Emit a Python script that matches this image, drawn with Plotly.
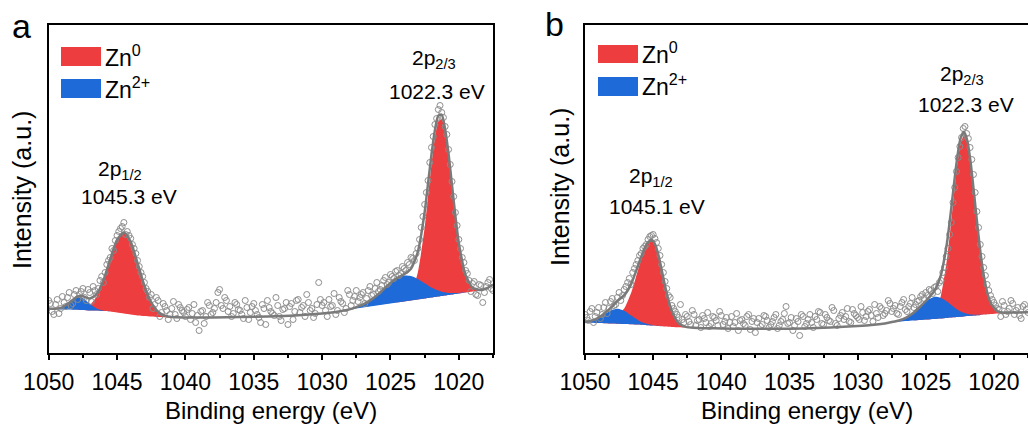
import plotly.graph_objects as go

W, H = 1028, 424

# ---------------- data ----------------
ENERGY = [
    1050.0, 1049.75, 1049.5, 1049.25, 1049.0, 1048.75, 1048.5, 1048.25, 1048.0, 1047.75,
    1047.5, 1047.25, 1047.0, 1046.75, 1046.5, 1046.25, 1046.0, 1045.75, 1045.5, 1045.25,
    1045.0, 1044.75, 1044.5, 1044.25, 1044.0, 1043.75, 1043.5, 1043.25, 1043.0, 1042.75,
    1042.5, 1042.25, 1042.0, 1041.75, 1041.5, 1041.25, 1041.0, 1040.75, 1040.5, 1040.25,
    1040.0, 1039.75, 1039.5, 1039.25, 1039.0, 1038.75, 1038.5, 1038.25, 1038.0, 1037.75,
    1037.5, 1037.25, 1037.0, 1036.75, 1036.5, 1036.25, 1036.0, 1035.75, 1035.5, 1035.25,
    1035.0, 1034.75, 1034.5, 1034.25, 1034.0, 1033.75, 1033.5, 1033.25, 1033.0, 1032.75,
    1032.5, 1032.25, 1032.0, 1031.75, 1031.5, 1031.25, 1031.0, 1030.75, 1030.5, 1030.25,
    1030.0, 1029.75, 1029.5, 1029.25, 1029.0, 1028.75, 1028.5, 1028.25, 1028.0, 1027.75,
    1027.5, 1027.25, 1027.0, 1026.75, 1026.5, 1026.25, 1026.0, 1025.75, 1025.5, 1025.25,
    1025.0, 1024.75, 1024.5, 1024.25, 1024.0, 1023.75, 1023.5, 1023.25, 1023.0, 1022.75,
    1022.5, 1022.25, 1022.0, 1021.75, 1021.5, 1021.25, 1021.0, 1020.75, 1020.5, 1020.25,
    1020.0, 1019.75, 1019.5, 1019.25, 1019.0, 1018.75, 1018.5, 1018.25, 1018.0, 1017.75,
    1017.5,
]
ENERGY_MID = [
    1049.875, 1049.625, 1049.375, 1049.125, 1048.875, 1048.625, 1048.375, 1048.125, 1047.875, 1047.625,
    1047.375, 1047.125, 1046.875, 1046.625, 1046.375, 1046.125, 1045.875, 1045.625, 1045.375, 1045.125,
    1044.875, 1044.625, 1044.375, 1044.125, 1043.875, 1043.625, 1043.375, 1043.125, 1042.875, 1042.625,
    1042.375, 1042.125, 1041.875, 1041.625, 1041.375, 1041.125, 1040.875, 1040.625, 1040.375, 1040.125,
    1039.875, 1039.625, 1039.375, 1039.125, 1038.875, 1038.625, 1038.375, 1038.125, 1037.875, 1037.625,
    1037.375, 1037.125, 1036.875, 1036.625, 1036.375, 1036.125, 1035.875, 1035.625, 1035.375, 1035.125,
    1034.875, 1034.625, 1034.375, 1034.125, 1033.875, 1033.625, 1033.375, 1033.125, 1032.875, 1032.625,
    1032.375, 1032.125, 1031.875, 1031.625, 1031.375, 1031.125, 1030.875, 1030.625, 1030.375, 1030.125,
    1029.875, 1029.625, 1029.375, 1029.125, 1028.875, 1028.625, 1028.375, 1028.125, 1027.875, 1027.625,
    1027.375, 1027.125, 1026.875, 1026.625, 1026.375, 1026.125, 1025.875, 1025.625, 1025.375, 1025.125,
    1024.875, 1024.625, 1024.375, 1024.125, 1023.875, 1023.625, 1023.375, 1023.125, 1022.875, 1022.625,
    1022.375, 1022.125, 1021.875, 1021.625, 1021.375, 1021.125, 1020.875, 1020.625, 1020.375, 1020.125,
    1019.875, 1019.625, 1019.375, 1019.125, 1018.875, 1018.625, 1018.375, 1018.125, 1017.875, 1017.625,
]

meas_a = [
    52, 41, 48, 39, 56, 46, 60, 49, 62, 58,
    64, 52, 60, 66, 58, 72, 70, 88, 95, 102,
    117, 124, 130, 121, 114, 104, 92, 80, 70, 61,
    58, 48, 52, 40, 46, 33, 44, 38, 48, 42,
    36, 45, 39, 30, 22, 42, 36, 47, 40, 50,
    63, 44, 52, 46, 39, 48, 42, 34, 45, 40,
    49, 38, 30, 44, 52, 41, 37, 47, 32, 44,
    28, 49, 41, 53, 45, 36, 50, 44, 39, 70,
    47, 42, 53, 47, 38, 55, 49, 44, 58, 52,
    62, 55, 60, 54, 66, 58, 70, 63, 72, 68,
    78, 74, 82, 79, 84, 90, 95, 92, 104, 125,
    148, 172, 205, 228, 243, 240, 226, 203, 171, 140,
    113, 95, 82, 72, 69, 58, 68, 50, 66, 73,
    62,
]
meas_a_mid = [
    49, 38, 53, 44, 50, 55, 47, 58, 53, 61,
    55, 63, 51, 62, 64, 76, 80, 92, 104, 112,
    121, 126, 118, 117, 108, 99, 86, 76, 64, 55,
    44, 55, 36, 49, 42, 38, 51, 34, 45, 40,
    43, 33, 48, 37, 41, 29, 50, 38, 44, 60,
    47, 55, 41, 36, 50, 43, 38, 52, 33, 46,
    42, 35, 48, 28, 45, 39, 55, 36, 43, 50,
    46, 33, 52, 40, 47, 58, 42, 35, 48, 53,
    50, 36, 46, 59, 42, 51, 40, 62, 47, 56,
    51, 58, 49, 62, 57, 64, 61, 67, 75, 70,
    76, 81, 77, 86, 82, 88, 94, 99, 113, 136,
    160, 190, 216, 234, 247, 235, 218, 188, 156, 127,
    104, 90, 79, 61, 71, 57, 67, 60, 70, 64,
]

meas_b = [
    38, 32, 44, 36, 45, 38, 50, 44, 54, 48,
    60, 57, 66, 74, 80, 88, 97, 104, 108, 116,
    118, 110, 97, 80, 64, 55, 44, 38, 48, 30,
    36, 28, 38, 32, 25, 34, 40, 29, 35, 27,
    37, 31, 24, 36, 30, 22, 33, 27, 38, 31,
    20, 34, 28, 36, 25, 31, 38, 27, 33, 46,
    30, 22, 34, 17, 36, 29, 38, 25, 33, 40,
    28, 35, 31, 42, 27, 37, 33, 44, 30, 39,
    35, 46, 32, 41, 37, 48, 35, 44, 39, 52,
    41, 47, 38, 50, 43, 46, 55, 48, 52, 58,
    60, 63, 59, 66, 70, 80, 96, 118, 150, 181,
    206, 224, 219, 205, 178, 141, 108, 85, 68, 57,
    50, 44, 36, 47, 41, 52, 38, 45, 34, 48,
    40,
]
meas_b_mid = [
    35, 41, 30, 40, 34, 45, 39, 51, 47, 55,
    52, 63, 70, 68, 84, 92, 99, 106, 113, 117,
    114, 104, 88, 71, 57, 47, 41, 35, 33, 38,
    31, 42, 27, 33, 37, 30, 26, 36, 32, 41,
    28, 35, 30, 26, 39, 32, 29, 36, 23, 34,
    30, 26, 37, 32, 28, 35, 24, 31, 39, 29,
    35, 27, 31, 38, 26, 33, 30, 36, 41, 29,
    38, 32, 45, 29, 34, 40, 36, 31, 43, 37,
    33, 40, 36, 43, 31, 39, 46, 37, 42, 49,
    44, 39, 46, 53, 41, 49, 45, 51, 56, 54,
    57, 62, 65, 61, 72, 85, 104, 130, 165, 195,
    215, 226, 214, 193, 160, 125, 96, 77, 62, 53,
    47, 43, 51, 38, 44, 49, 42, 37, 46, 43,
]

# fitted curves, panel a
fit_x_a = [
    1050, 1049.5, 1049, 1048.5, 1048, 1047.75, 1047.5, 1047, 1046.5, 1046,
    1045.5, 1045, 1044.5, 1044, 1043.5, 1043, 1042.5, 1042, 1041.5, 1041,
    1040, 1039, 1038, 1036, 1034, 1032, 1030, 1029, 1028, 1027.5,
    1027, 1026.5, 1026, 1025.5, 1025, 1024.5, 1024, 1023.5, 1023, 1022.5,
    1022.25, 1022, 1021.75, 1021.5, 1021.25, 1021, 1020.75, 1020.5, 1020.25, 1020,
    1019.5, 1019, 1018.5, 1018, 1017.5,
]
bg_a = [
    44, 43.5, 43, 43, 42.7, 42.6, 42.5, 42, 42, 41.5,
    41, 40, 39, 38, 37, 36.5, 36, 35.5, 35.3, 35,
    35, 35, 35, 35.5, 36, 37, 39, 40.5, 42.5, 44,
    45, 46, 47, 48, 49, 50, 51, 52, 53, 54,
    54.5, 55, 55.5, 56, 56.5, 57, 57.5, 58, 58.5, 59,
    60, 61, 62, 64, 68,
]
zn0_a = [
    0, 0, 0, 0.1, 0.4, 0.8, 1.6, 5.3, 14.1, 30.3,
    52.3, 72.6, 81, 72.6, 52.3, 30.3, 14.1, 5.3, 1.6, 0.4,
    0, 0, 0, 0, 0, 0, 0, 0, 0, 0,
    0, 0, 0, 0, 0, 0.2, 1.4, 7.3, 27, 71,
    102, 133, 159, 175, 177, 163, 139, 108, 77, 50,
    17, 4, 0.6, 0, 0,
]
zn2_a = [
    0, 0.3, 2.0, 6.7, 12.1, 13, 12.1, 6.7, 2.0, 0.3,
    0, 0, 0, 0, 0, 0, 0, 0, 0, 0,
    0, 0, 0, 0, 0, 0, 0, 0.1, 0.6, 1.4,
    3.1, 5.9, 10, 15.2, 20.5, 24.5, 26, 24.5, 20.5, 15.2,
    12.6, 10, 7.8, 5.9, 4.3, 3.1, 2.1, 1.4, 0.9, 0.6,
    0.2, 0.1, 0, 0, 0,
]

# fitted curves, panel b
fit_x_b = [
    1050, 1049.5, 1049, 1048.5, 1048, 1047.6, 1047.1, 1046.6, 1046.1, 1045.85,
    1045.6, 1045.35, 1045.1, 1044.85, 1044.6, 1044.35, 1044.1, 1043.85, 1043.6, 1043.1,
    1042.6, 1042, 1041, 1040, 1038, 1036, 1034, 1032, 1030, 1029,
    1028, 1027.4, 1026.9, 1026.4, 1025.9, 1025.4, 1024.9, 1024.4, 1023.9, 1023.45,
    1023.2, 1022.95, 1022.7, 1022.45, 1022.2, 1021.95, 1021.7, 1021.45, 1021.2, 1020.95,
    1020.7, 1020.45, 1020.2, 1019.7, 1019.2, 1018.5, 1017.5,
]
bg_b = [
    30, 29.8, 29.5, 29.3, 29, 28.8, 28.5, 28.3, 28, 27.8,
    27.6, 27.3, 27, 26.8, 26.5, 26.3, 26, 25.8, 25.6, 25.3,
    25, 24.7, 24.3, 24, 23.7, 23.7, 24, 25, 26.5, 27.5,
    29, 30.3, 31, 31.6, 32.1, 32.6, 33.1, 33.6, 34.1, 34.6,
    34.9, 35.2, 35.5, 35.8, 36.1, 36.4, 36.7, 37, 37.3, 37.6,
    37.9, 38.2, 38.5, 39, 39.5, 40, 40.3,
]
zn0_b = [
    0, 0.1, 0.3, 1.1, 3.5, 8, 16, 32, 55, 66,
    76, 82.5, 85, 81, 70, 54.8, 38.9, 25.1, 14.7, 3.7,
    0.6, 0, 0, 0, 0, 0, 0, 0, 0, 0,
    0, 0, 0, 0, 0, 0.1, 0.9, 5.4, 22.2, 58.2,
    87.6, 120, 151, 173, 181, 173, 151, 120, 87.6, 58.2,
    35.4, 19.6, 9.9, 1.9, 0.3, 0, 0,
]
zn2_b = [
    0.6, 2.0, 5.1, 9.6, 13.7, 15, 13.1, 8.6, 4.3, 2.7,
    1.6, 0.9, 0.5, 0.2, 0.1, 0, 0, 0, 0, 0,
    0, 0, 0, 0, 0, 0, 0, 0, 0, 0,
    0.1, 0.4, 1.3, 3.6, 7.6, 13.3, 19, 22, 20.6, 16.3,
    13.3, 10.4, 7.6, 5.3, 3.6, 2.2, 1.3, 0.8, 0.4, 0.2,
    0.1, 0, 0, 0, 0, 0, 0,
]

TICKS = [1050, 1045, 1040, 1035, 1030, 1025, 1020]
MINOR_TICKS = [1047.5, 1042.5, 1037.5, 1032.5, 1027.5, 1022.5, 1017.5]
PEAK_LABELS_A = [("2p<sub>1/2</sub>", "1045.3 eV"), ("2p<sub>2/3</sub>", "1022.3 eV")]
PEAK_LABELS_B = [("2p<sub>1/2</sub>", "1045.1 eV"), ("2p<sub>2/3</sub>", "1022.3 eV")]

for arr in (meas_a, meas_b):
    assert len(arr) == len(ENERGY), len(arr)
for arr in (meas_a_mid, meas_b_mid):
    assert len(arr) == len(ENERGY_MID), len(arr)
for arrs in ((fit_x_a, bg_a, zn0_a, zn2_a), (fit_x_b, bg_b, zn0_b, zn2_b)):
    for a in arrs:
        assert len(a) == len(arrs[0]), (len(a), len(arrs[0]))

# ---------------- style ----------------
RED = "#EE3D3F"
BLUE = "#1D6AD8"
ENV = "#7A7A7A"
PT = "#8C8C8C"
FONT = "Liberation Sans, Arial, sans-serif"

def px(x):
    return x / W

def py(y):
    return 1 - y / H

fig = go.Figure()

def add_panel(n, fit_x, bg, zn0, zn2, meas, meas_mid):
    xa, ya = ("x", "y") if n == 1 else ("x2", "y2")
    top0 = [b + z for b, z in zip(bg, zn0)]
    top2 = [b + z for b, z in zip(bg, zn2)]
    env = [b + p + q for b, p, q in zip(bg, zn0, zn2)]
    rx = list(fit_x) + list(fit_x)[::-1]
    fig.add_trace(go.Scatter(x=rx, y=top0 + bg[::-1], fill="toself", fillcolor=RED,
                             mode="lines", line=dict(width=0, shape="spline", smoothing=0.6),
                             xaxis=xa, yaxis=ya, showlegend=False, hoverinfo="skip"))
    fig.add_trace(go.Scatter(x=rx, y=top2 + bg[::-1], fill="toself", fillcolor=BLUE,
                             mode="lines", line=dict(width=0, shape="spline", smoothing=0.6),
                             xaxis=xa, yaxis=ya, showlegend=False, hoverinfo="skip"))
    fig.add_trace(go.Scatter(x=ENERGY + ENERGY_MID, y=meas + meas_mid, mode="markers",
                             marker=dict(symbol="circle-open", size=6, color=PT, line=dict(width=1)),
                             xaxis=xa, yaxis=ya, showlegend=False, hoverinfo="skip"))
    fig.add_trace(go.Scatter(x=fit_x, y=env, mode="lines",
                             line=dict(color=ENV, width=2.5, shape="spline", smoothing=0.6),
                             xaxis=xa, yaxis=ya, showlegend=False, hoverinfo="skip"))

add_panel(1, fit_x_a, bg_a, zn0_a, zn2_a, meas_a, meas_a_mid)
add_panel(2, fit_x_b, bg_b, zn0_b, zn2_b, meas_b, meas_b_mid)

YTOP, YBOT = 25, 352.5
PA = (48.7, 493)
PB = (585, 1028)

def xaxis_cfg(dom, mirror):
    return dict(domain=[px(dom[0]), px(dom[1])], range=[1050, 1017.5], tickmode="array",
                tickvals=TICKS, ticks="outside", ticklen=6, tickwidth=1.5, tickcolor="black",
                showline=True, linecolor="black", linewidth=1.8, mirror=mirror,
                showgrid=False, zeroline=False, automargin=False, ticklabelstandoff=2,
                tickfont=dict(family=FONT, size=23, color="black"),
                minor=dict(tickmode="array", tickvals=MINOR_TICKS, ticks="outside",
                           ticklen=3.5, tickwidth=1.5, tickcolor="black", showgrid=False))

def yaxis_cfg(anchor, mirror):
    return dict(domain=[py(YBOT), py(YTOP)], range=[0, YBOT - YTOP], showticklabels=False,
                ticks="", showline=True, linecolor="black", linewidth=1.8, mirror=mirror,
                showgrid=False, zeroline=False, anchor=anchor, automargin=False)

fig.update_layout(
    template="none",
    width=W, height=H, margin=dict(l=0, r=0, t=0, b=0, pad=0),
    plot_bgcolor="white", paper_bgcolor="white",
    xaxis=dict(**xaxis_cfg(PA, True), anchor="y"),
    yaxis=yaxis_cfg("x", True),
    xaxis2=dict(**xaxis_cfg(PB, True), anchor="y2"),
    yaxis2=yaxis_cfg("x2", False),
)

ann = []
def text(x, y, s, size=21, xanchor="center", yanchor="middle", angle=0):
    ann.append(dict(x=px(x), y=py(y), xref="paper", yref="paper", text=s, showarrow=False,
                    xanchor=xanchor, yanchor=yanchor, textangle=angle,
                    font=dict(family=FONT, size=size, color="black")))

# panel letters
text(21, 26, "a", size=34)
text(554, 24, "b", size=34)
# axis titles
text((PA[0] + PA[1]) / 2, 410, "Binding energy (eV)", size=24)
text((PB[0] + PB[1]) / 2, 410, "Binding energy (eV)", size=24)
text(22, 190, "Intensity (a.u.)", size=25, angle=-90)
text(560, 187, "Intensity (a.u.)", size=25, angle=-90)
# peak labels
text(120, 170, PEAK_LABELS_A[0][0])
text(129, 197, PEAK_LABELS_A[0][1])
text(434, 59, PEAK_LABELS_A[1][0])
text(437, 91, PEAK_LABELS_A[1][1])
text(651, 177, PEAK_LABELS_B[0][0])
text(657, 206, PEAK_LABELS_B[0][1])
text(962, 75, PEAK_LABELS_B[1][0])
text(966, 105, PEAK_LABELS_B[1][1])

# legends
shapes = []
def legend(x0, ys, tx):
    for (y0, y1), col, lab in zip(ys, (RED, BLUE), ("Zn<sup>0</sup>", "Zn<sup>2+</sup>")):
        shapes.append(dict(type="rect", xref="paper", yref="paper", x0=px(x0), x1=px(x0 + 40),
                           y0=py(y1), y1=py(y0), fillcolor=col, line=dict(width=0)))
        text(tx, (y0 + y1) / 2 - 1, lab, size=23, xanchor="left")

legend(61, [(47, 66), (79, 98)], 103)
legend(598, [(45, 63), (77, 96)], 640)

fig.update_layout(annotations=ann, shapes=shapes)
fig.write_html("out.html")
